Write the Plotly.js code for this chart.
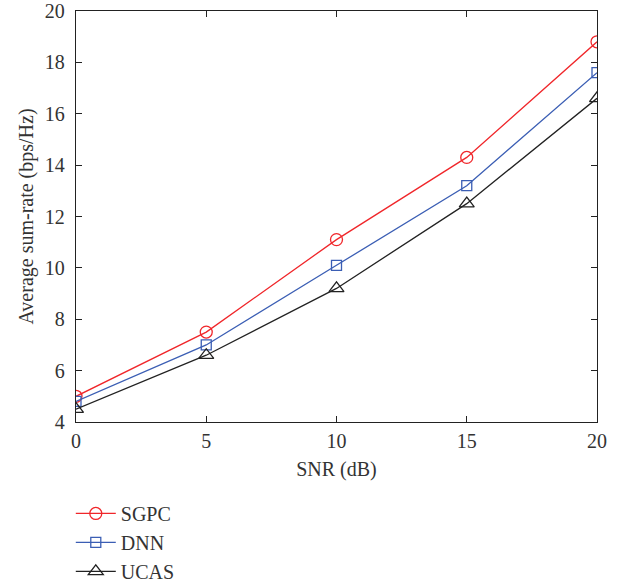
<!DOCTYPE html>
<html><head><meta charset="utf-8">
<script src="https://cdn.plot.ly/plotly-3.0.1.min.js"></script>
<style>body{margin:0;background:#fff}#c{width:625px;height:582px}</style>
</head><body><div id="c"></div>
<script>
const snr = [0, 5, 10, 15, 20];
const sgpc = [5.0, 7.5, 11.1, 14.3, 18.8];
const dnn = [4.8, 7.0, 10.1, 13.2, 17.6];
const ucas = [4.5, 6.6, 9.2, 12.5, 16.6];
const font = "Liberation Serif, Times New Roman, serif";
const traces = [
  {x: snr, y: sgpc, name: 'SGPC', mode: 'lines+markers', line: {color: '#f0262a', width: 1.3}, marker: {symbol: 'circle-open', size: 12, color: '#f0262a', line: {width: 1.3}}},
  {x: snr, y: dnn, name: 'DNN', mode: 'lines+markers', line: {color: '#3b5eb4', width: 1.3}, marker: {symbol: 'square-open', size: 10, color: '#3b5eb4', line: {width: 1.3}}},
  {x: snr, y: ucas, name: 'UCAS', mode: 'lines+markers', line: {color: '#222', width: 1.3}, marker: {symbol: 'triangle-up-open', size: 13, color: '#222', line: {width: 1.3}}}
];
const axisCommon = {showline: true, linecolor: '#222', linewidth: 1.3, mirror: 'ticks', ticks: 'inside', ticklen: 6, tickcolor: '#222', showgrid: false, zeroline: false, tickfont: {family: font, size: 20, color: '#333'}};
const layout = {
  width: 625, height: 582,
  margin: {l: 76, r: 28, t: 11, b: 160, autoexpand: false},
  paper_bgcolor: '#fff', plot_bgcolor: '#fff',
  font: {family: font, color: '#333'},
  xaxis: Object.assign({}, axisCommon, {range: [0, 20], tickvals: [0, 5, 10, 15, 20], ticklabelstandoff: 1, title: {text: 'SNR (dB)', font: {family: font, size: 20, color: '#333'}, standoff: 10}}),
  yaxis: Object.assign({}, axisCommon, {range: [4, 20], tickvals: [4, 6, 8, 10, 12, 14, 16, 18, 20], ticklabelstandoff: 6, title: {text: 'Average sum-rate (bps/Hz)', font: {family: font, size: 20, color: '#333'}, standoff: 5}}),
  showlegend: true,
  legend: {x: -0.01, xanchor: 'left', y: -0.175, yanchor: 'top', itemwidth: 40, font: {family: font, size: 20, color: '#333'}, bgcolor: 'rgba(0,0,0,0)', tracegroupgap: 0}
};
Plotly.newPlot('c', traces, layout, {displayModeBar: false});
</script></body></html>
